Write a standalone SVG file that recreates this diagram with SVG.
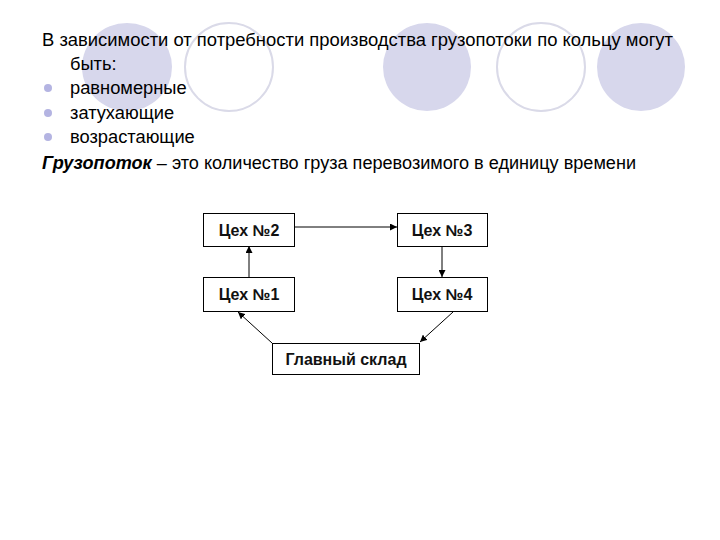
<svg xmlns="http://www.w3.org/2000/svg" width="720" height="540" viewBox="0 0 720 540">
<style>
.bg{fill:#d7d7ec}
.ring{fill:none;stroke:#dadae8;stroke-width:2}
.t{font-family:"Liberation Sans",Arial,sans-serif;font-size:18.3px;fill:#000}
.bul{fill:#b4b4e2}
.box{fill:#fff;stroke:#000;stroke-width:1}
.bt{font-family:"Liberation Sans",Arial,sans-serif;font-size:16px;font-weight:bold;fill:#111;text-anchor:middle}
.c{stroke:#000;stroke-width:1;fill:none;marker-end:url(#ah)}
</style>
<defs>
<marker id="ah" viewBox="0 0 10 10" refX="10" refY="5" markerWidth="7" markerHeight="7" markerUnits="userSpaceOnUse" orient="auto">
<path d="M0,0 L10,5 L0,10 z" fill="#000"/>
</marker>
</defs>
<rect width="720" height="540" fill="#fff"/>
<g id="decor">
<ellipse class="bg" cx="127" cy="67" rx="45" ry="44"/>
<ellipse class="ring" cx="229" cy="67" rx="44" ry="44"/>
<ellipse class="bg" cx="427" cy="67" rx="44" ry="44"/>
<ellipse class="ring" cx="541" cy="67" rx="44" ry="44"/>
<ellipse class="bg" cx="641" cy="67" rx="44" ry="44"/>
</g>
<g id="text">
<text class="t" x="42" y="46" textLength="631" lengthAdjust="spacingAndGlyphs">В зависимости от потребности производства грузопотоки по кольцу могут</text>
<text class="t" x="70" y="70">быть:</text>
<circle class="bul" cx="48" cy="88" r="4"/>
<text class="t" x="70" y="94">равномерные</text>
<circle class="bul" cx="48" cy="113" r="4"/>
<text class="t" x="70" y="119">затухающие</text>
<circle class="bul" cx="48" cy="137" r="4"/>
<text class="t" x="70" y="143">возрастающие</text>
<text class="t" x="42" y="169" textLength="594" lengthAdjust="spacingAndGlyphs"><tspan font-weight="bold" font-style="italic">Грузопоток</tspan> – это количество груза перевозимого в единицу времени</text>
</g>
<g id="connectors">
<line class="c" x1="249" y1="277" x2="249" y2="246"/>
<line class="c" x1="294" y1="227" x2="397" y2="227"/>
<line class="c" x1="442" y1="247" x2="442" y2="277"/>
<line class="c" x1="453" y1="312" x2="420" y2="342"/>
<line class="c" x1="272" y1="343" x2="238" y2="312"/>
</g>
<g id="ceh2"><rect class="box" x="203.5" y="213.5" width="91" height="33"/><text class="bt" x="249" y="236">Цех №2</text></g>
<g id="ceh3"><rect class="box" x="397.5" y="213.5" width="90" height="33"/><text class="bt" x="442" y="236">Цех №3</text></g>
<g id="ceh1"><rect class="box" x="203.5" y="277.5" width="91" height="34"/><text class="bt" x="249" y="300">Цех №1</text></g>
<g id="ceh4"><rect class="box" x="397.5" y="277.5" width="90" height="34"/><text class="bt" x="442" y="300">Цех №4</text></g>
<g id="sklad"><rect class="box" x="272.5" y="343.5" width="147" height="31"/><text class="bt" x="346" y="365">Главный склад</text></g>
</svg>
